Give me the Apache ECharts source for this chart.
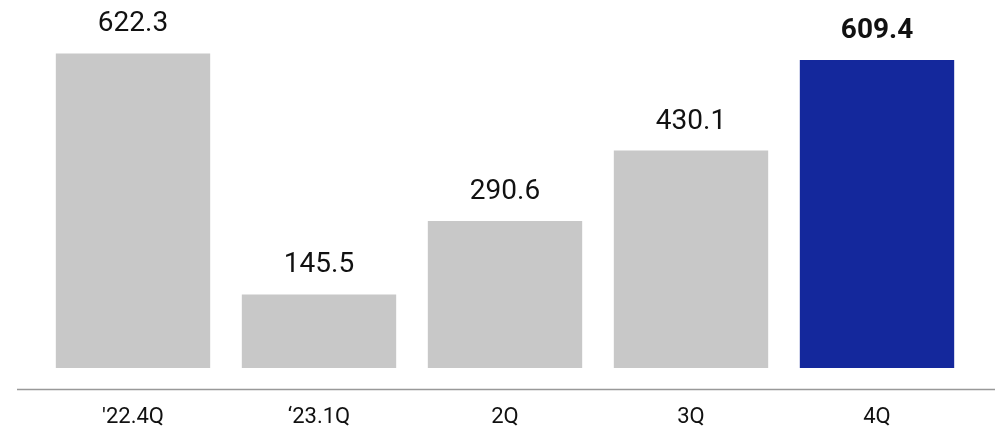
<!DOCTYPE html>
<html><head><meta charset="utf-8">
<script src="https://cdn.jsdelivr.net/npm/echarts@6/dist/echarts.min.js"></script>
<style>html,body{margin:0;padding:0;background:#fff}#c{width:1002px;height:431px}</style>
</head><body><div id="c"></div>
<script>
var categories = ["'22.4Q", "\u201823.1Q", "2Q", "3Q", "4Q"];
var values = [622.3, 145.5, 290.6, 430.1, 609.4];
var highlightIndex = 4;

var chart = echarts.init(document.getElementById('c'), null, {renderer: 'canvas'});
var data = values.map(function (v, i) {
  var hl = i === highlightIndex;
  return {
    value: v,
    itemStyle: {color: hl ? '#14289c' : '#c8c8c8'},
    label: {fontWeight: hl ? 'bold' : 'normal'}
  };
});
chart.setOption({
  animation: false,
  grid: {left: 40, right: 32, top: 0, bottom: 63},
  xAxis: {
    type: 'category', data: categories,
    axisLine: {show: false}, axisTick: {show: false},
    axisLabel: {color: '#111', fontSize: 22, margin: 38, fontFamily: 'Roboto'}
  },
  yAxis: {type: 'value', min: 0, max: 728, show: false, splitLine: {show: false}},
  series: [{
    type: 'bar', data: data, barCategoryGap: '17%',
    label: {show: true, position: 'top', distance: 15, fontSize: 28, color: '#111', fontFamily: 'Roboto',
      formatter: function (p) { return p.value.toFixed(1); }}
  }],
  graphic: [{
    type: 'line', shape: {x1: 17, y1: 389.5, x2: 995, y2: 389.5},
    style: {stroke: '#999', lineWidth: 1.5}, silent: true
  }]
});
</script></body></html>
